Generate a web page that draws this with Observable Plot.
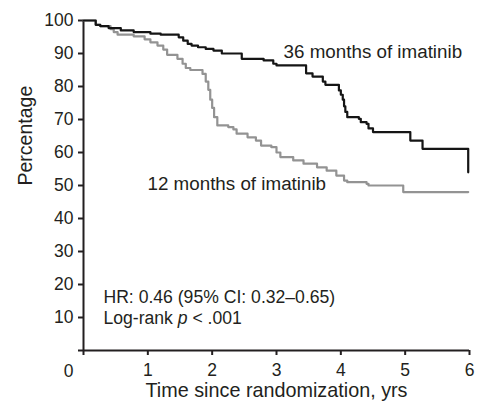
<!DOCTYPE html>
<html>
<head>
<meta charset="utf-8">
<script src="https://cdn.jsdelivr.net/npm/d3@7"></script>
<script src="https://cdn.jsdelivr.net/npm/@observablehq/plot@0.6"></script>
<style>
  html, body { margin: 0; padding: 0; background: #fff; }
  #chart { width: 482px; height: 407px; }
</style>
</head>
<body>
<div id="chart"></div>
<script>
// 36 months of imatinib (Kaplan–Meier steps)
const time36 = [0, 0.19, 0.26, 0.39, 0.58, 0.78, 1.04, 1.2, 1.48, 1.55, 1.62, 1.68, 1.78, 1.9, 2.02, 2.15, 2.46, 2.8, 2.95, 3.0, 3.46, 3.56, 3.72, 3.76, 3.97, 4.0, 4.03, 4.05, 4.07, 4.1, 4.28, 4.31, 4.4, 4.43, 4.5, 5.08, 5.27, 5.98];
const surv36 = [100, 98.7, 98.3, 97.7, 97.0, 96.5, 96.0, 95.7, 94.9, 93.9, 92.9, 92.4, 91.9, 91.4, 90.9, 90.0, 88.4, 87.9, 86.9, 86.4, 84.0, 83.0, 81.5, 80.5, 78.8, 77.5, 76.0, 74.0, 72.3, 70.7, 70.2, 69.2, 68.7, 67.3, 66.2, 63.6, 61.1, 54];

// 12 months of imatinib
const time12 = [0, 0.19, 0.26, 0.42, 0.47, 0.53, 0.78, 0.95, 1.04, 1.15, 1.24, 1.3, 1.46, 1.54, 1.59, 1.66, 1.85, 1.9, 1.94, 1.97, 2.0, 2.03, 2.08, 2.25, 2.33, 2.38, 2.55, 2.68, 2.76, 2.92, 3.0, 3.06, 3.26, 3.42, 3.63, 3.78, 3.93, 4.05, 4.1, 4.4, 4.43, 4.97, 5.98];
const surv12 = [100, 98.7, 98.3, 97.4, 96.5, 95.7, 95.2, 94.3, 93.4, 92.4, 91.2, 89.6, 88.4, 86.9, 85.6, 85.0, 83.8, 81.5, 79.0, 76.0, 73.5, 70.7, 68.2, 67.7, 67.0, 65.7, 64.6, 63.6, 62.1, 61.6, 60.0, 58.6, 57.6, 56.6, 55.5, 54.5, 53.0, 51.5, 51.0, 50.5, 50.0, 48.0, 48.0];

const xTicks = [0, 1, 2, 3, 4, 5, 6];
const yTicks = [0, 10, 20, 30, 40, 50, 60, 70, 80, 90, 100];

const seriesLabels = ["36 months of imatinib", "12 months of imatinib"];
const labelX = [3.11, 0.995];
const labelY = [90.4, 50.6];

const statLines = ["HR: 0.46 (95% CI: 0.32\u20130.65)", "Log-rank p < .001"];
const statX = [0.31, 0.31];
const statY = [16.0, 9.85];

const xTitle = "Time since randomization, yrs";
const yTitle = "Percentage";
const originLabel = "0";

const data36 = time36.map((t, i) => ({t, s: surv36[i]}));
const data12 = time12.map((t, i) => ({t, s: surv12[i]}));
const labels = seriesLabels.map((text, i) => ({text, x: labelX[i], y: labelY[i]}));
const stats = statLines.map((text, i) => ({text, x: statX[i], y: statY[i]}));

const FONT = "'Liberation Sans', Arial, Helvetica, sans-serif";
const INK = "#231f20";

const chart = Plot.plot({
  width: 482,
  height: 407,
  marginLeft: 83,
  marginRight: 13,
  marginTop: 20,
  marginBottom: 57,
  style: {fontFamily: FONT, fontSize: "17.5px", color: INK, background: "#fff"},
  x: {domain: [0, 6], ticks: xTicks, tickSize: 5, tickPadding: 8, tickFormat: d => d === 0 ? "" : String(d), label: null},
  y: {domain: [0, 100], ticks: yTicks, tickSize: 5, tickPadding: 5, tickFormat: d => d === 0 ? "" : String(d), label: null},
  marks: [
    Plot.ruleX([0], {y1: 0, y2: 100, stroke: INK, strokeWidth: 2}),
    Plot.ruleY([0], {x1: 0, x2: 6, stroke: INK, strokeWidth: 2}),
    Plot.line(data12, {x: "t", y: "s", curve: "step-after", stroke: "#939393", strokeWidth: 2.2}),
    Plot.line(data36, {x: "t", y: "s", curve: "step-after", stroke: "#151515", strokeWidth: 2.2}),
    Plot.text(labels, {x: "x", y: "y", text: "text", textAnchor: "start", fontSize: 18.8, fill: INK}),
    Plot.text(stats, {x: "x", y: "y", text: "text", textAnchor: "start", fontSize: 17.6, fill: INK}),
    Plot.text([originLabel], {x: 0, y: 0, text: d => d, dx: -15, dy: 21, fontSize: 17.5, fill: INK}),
    Plot.text([yTitle], {frameAnchor: "left", text: d => d, rotate: -90, dx: -57.5, fontSize: 19.5, fill: INK}),
    Plot.text([xTitle], {frameAnchor: "bottom", text: d => d, dy: 46.6, fontSize: 19.8, fill: INK})
  ]
});

document.getElementById("chart").appendChild(chart);

// style axis ticks
d3.select(chart).selectAll("g[aria-label$='axis'] line, g[aria-label*='tick'] line, g[aria-label*='tick'] path")
  .attr("stroke-width", 2).attr("stroke", INK);
d3.select(chart).selectAll("g[aria-label*='axis'] text").attr("fill", INK);

// italic p in log-rank line
d3.select(chart).selectAll("text").each(function() {
  if (this.textContent === "Log-rank p < .001") {
    const el = d3.select(this);
    el.text(null);
    el.append("tspan").text("Log-rank ");
    el.append("tspan").attr("font-style", "italic").text("p");
    el.append("tspan").text(" < .001");
  }
});
</script>
</body>
</html>
